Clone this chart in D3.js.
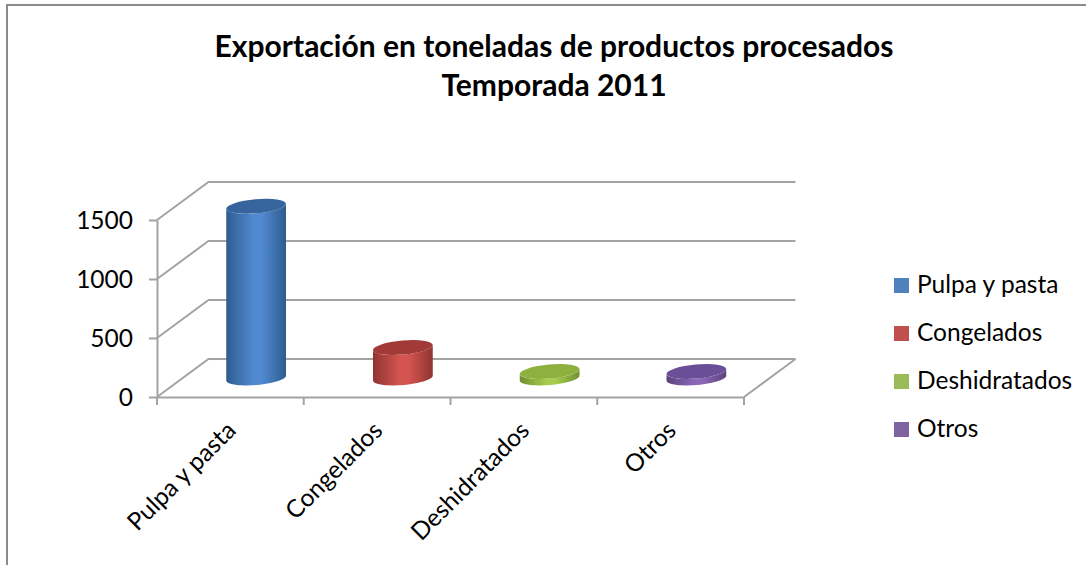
<!DOCTYPE html>
<html><head><meta charset="utf-8">
<script src="https://cdn.jsdelivr.net/npm/d3@7/dist/d3.min.js"></script>
<style>html,body{margin:0;padding:0;background:#fff;overflow:hidden}svg{display:block}text{font-family:Lato,"Open Sans",sans-serif;fill:#000}</style>
</head><body>
<script>
const categories = ["Pulpa y pasta","Congelados","Deshidratados","Otros"];
const values = [1455, 258, 55, 55];
const yTicks = [0,500,1000,1500];
const titleLines = ["Exportación en toneladas de productos procesados","Temporada 2011"];
const colors = ["#4f81bd","#c0504d","#9bbb59","#8064a2"];
const edgeColors = ["#2e5c90","#8f3432","#71902f","#5a4279"];
const midColors = ["#5089d0","#d4544f","#a6cc4f","#8a68b8"];
const topColors = ["#35659c","#a23a38","#8db03f","#6a4e98"];

const W=1086,H=565,dx=51.5,dy=-38;
const svg=d3.select("body").append("svg").attr("width",W).attr("height",H);
const x=d3.scaleBand().domain(categories).range([157,744]);
const y=d3.scaleLinear().domain([0,1500]).range([397,220]);

svg.append("rect").attr("x",7).attr("y",5).attr("width",W+20).attr("height",H+20).attr("fill","#fff").attr("stroke","#8a8a8a").attr("stroke-width",2);

const title=svg.append("text").attr("text-anchor","middle").attr("font-weight",700).attr("font-size",30);
title.selectAll("tspan").data(titleLines).join("tspan").attr("x",554).attr("y",(d,i)=>57+i*39).text(d=>d);

const grid="#a3a3a3";
const g=svg.append("g").attr("fill","none").attr("stroke",grid).attr("stroke-width",2);
yTicks.forEach(t=>{
  g.append("path").attr("d",d3.line()([[x.range()[0],y(t)],[x.range()[0]+dx,y(t)+dy],[x.range()[1]+dx,y(t)+dy]]));
});
g.append("path").attr("d",d3.line()([[x.range()[1],y(0)],[x.range()[1]+dx,y(0)+dy]]));

const axL=svg.append("g").attr("transform",`translate(${x.range()[0]},0)`)
  .call(d3.axisLeft(y).tickValues(yTicks).tickSize(8).tickPadding(16).tickSizeOuter(0).tickFormat(d3.format("d")));
const axB=svg.append("g").attr("transform",`translate(0,${y(0)})`)
  .call(d3.axisBottom(x).tickSize(0).tickSizeOuter(0).tickFormat(d=>d));
axL.selectAll("path,line").attr("stroke",grid).attr("stroke-width",2);
axB.select("path").attr("stroke",grid).attr("stroke-width",2);
axL.selectAll("text").attr("font-size",24.5).attr("fill","#000").style("font-family","Lato").attr("dy","0.36em");
axB.selectAll("text").attr("font-size",24.5).attr("fill","#000").style("font-family","Lato")
  .attr("text-anchor","end").attr("y",0).attr("dy",0)
  .attr("transform",function(){return "translate(7,35) rotate(-45)";});
// tick marks at band edges
svg.append("g").selectAll("line").data(categories.map(c=>x(c)).concat([x.range()[1]])).join("line")
  .attr("x1",d=>d).attr("x2",d=>d).attr("y1",y(0)).attr("y2",y(0)+8).attr("stroke",grid).attr("stroke-width",2);

const defs=svg.append("defs");
categories.forEach((c,i)=>{
  const lg=defs.append("linearGradient").attr("id","g"+i);
  lg.append("stop").attr("offset","0").attr("stop-color",edgeColors[i]);
  lg.append("stop").attr("offset","0.45").attr("stop-color",midColors[i]);
  lg.append("stop").attr("offset","0.6").attr("stop-color",midColors[i]);
  lg.append("stop").attr("offset","1").attr("stop-color",edgeColors[i]);
});
const rx=30,ry=7,rotDeg=-5,rot=rotDeg*Math.PI/180;
function ept(cx,cy,t){const a=rx*Math.cos(t),b=ry*Math.sin(t);
  return [cx+a*Math.cos(rot)-b*Math.sin(rot),cy+a*Math.sin(rot)+b*Math.cos(rot)];}
const bars=svg.append("g").selectAll("g").data(categories).join("g");
bars.each(function(c,i){
  const cx=x(c)+x.bandwidth()/2+dx/2, by=y(0)+dy/2, ty=y(values[i])+dy/2, s=d3.select(this);
  const low=d3.range(0,181,6).map(a=>ept(cx,by,a*Math.PI/180));
  const upper=d3.range(180,-1,-6).map(a=>ept(cx,ty,a*Math.PI/180));
  s.append("path").attr("d",d3.line()(low.concat(upper))+"Z").attr("fill",`url(#g${i})`);
  s.append("ellipse").attr("cx",cx).attr("cy",ty).attr("rx",rx).attr("ry",ry)
    .attr("transform",`rotate(${rotDeg} ${cx} ${ty})`).attr("fill",topColors[i]);
});

const leg=svg.append("g").selectAll("g").data(categories).join("g")
  .attr("transform",(d,i)=>`translate(894,${278+i*48})`);
leg.append("rect").attr("width",15).attr("height",15).attr("fill",(d,i)=>colors[i]);
leg.append("text").attr("x",23).attr("y",15).attr("font-size",24.5).text(d=>d);
</script>
</body></html>
